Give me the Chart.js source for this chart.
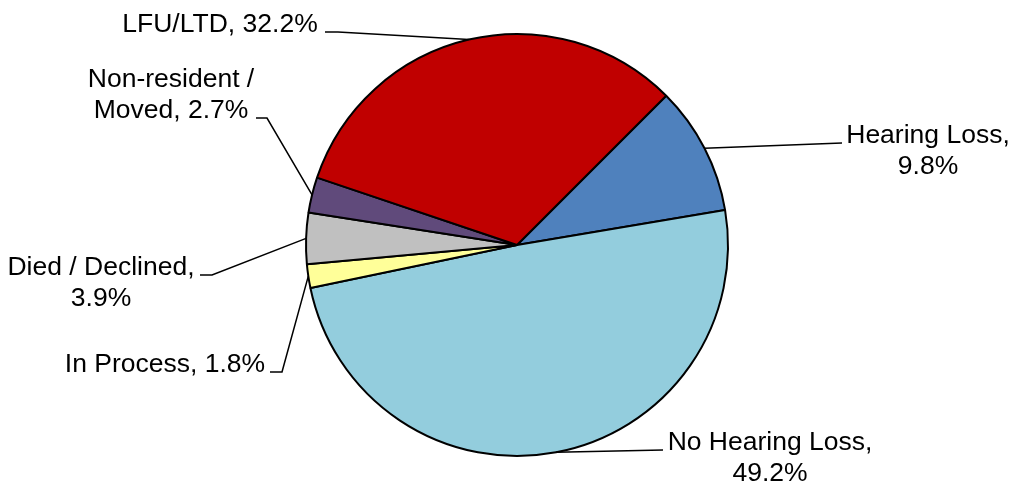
<!DOCTYPE html>
<html><head><meta charset="utf-8">
<script src="https://cdn.jsdelivr.net/npm/chart.js@4"></script>
<style>html,body{margin:0;padding:0;background:#fff;overflow:hidden}</style>
</head><body>
<canvas id="c" width="1016" height="483"></canvas>
<script>
const categories = ["Hearing Loss", "No Hearing Loss", "In Process", "Died / Declined", "Non-resident / Moved", "LFU/LTD"];
const values = [9.8, 49.2, 1.8, 3.9, 2.7, 32.2];
const colors = ["#4F81BD", "#93CDDD", "#FFFF99", "#C0C0C0", "#604A7B", "#C00000"];

// label placement (layout only): text centre x, first baseline, wrap width, leader elbow and end
const labelLayout = [
  {cx: 928, y: 143, wrap: 175, elbow: [842, 143], end: [842, 143]},
  {cx: 770, y: 450, wrap: 225, elbow: [663, 450], end: [663, 450]},
  {cx: 165, y: 372, wrap: 400, elbow: [282, 372], end: [270, 372]},
  {cx: 101, y: 275, wrap: 205, elbow: [212, 275], end: [200, 275]},
  {cx: 171, y: 87,  wrap: 180, elbow: [267, 118], end: [256, 118]},
  {cx: 220, y: 32,  wrap: 400, elbow: [338, 32], end: [325, 32]}
];
const FONT = '26.5px "Liberation Sans", Arial, sans-serif';
const LINE_H = 31;

function wrapText(ctx, text, maxW) {
  const words = text.split(' ');
  const lines = [];
  let cur = '';
  for (const w of words) {
    const t = cur ? cur + ' ' + w : w;
    if (cur && ctx.measureText(t).width > maxW) { lines.push(cur); cur = w; }
    else cur = t;
  }
  if (cur) lines.push(cur);
  return lines;
}

const leaderLabels = {
  id: 'leaderLabels',
  afterDraw(chart) {
    const ctx = chart.ctx;
    const meta = chart.getDatasetMeta(0);
    ctx.save();
    ctx.font = FONT;
    ctx.fillStyle = '#000';
    ctx.strokeStyle = '#000';
    ctx.lineWidth = 1.5;
    ctx.textAlign = 'center';
    ctx.textBaseline = 'alphabetic';
    meta.data.forEach((arc, i) => {
      const p = arc.getProps(['x', 'y', 'startAngle', 'endAngle', 'outerRadius'], true);
      const mid = (p.startAngle + p.endAngle) / 2;
      const ax = p.x + Math.cos(mid) * p.outerRadius;
      const ay = p.y + Math.sin(mid) * p.outerRadius;
      const L = labelLayout[i];
      ctx.beginPath();
      ctx.moveTo(ax, ay);
      ctx.lineTo(L.elbow[0], L.elbow[1]);
      ctx.lineTo(L.end[0], L.end[1]);
      ctx.stroke();
      const text = categories[i] + ', ' + values[i].toFixed(1) + '%';
      const lines = wrapText(ctx, text, L.wrap);
      lines.forEach((ln, k) => ctx.fillText(ln, L.cx, L.y + k * LINE_H));
    });
    ctx.restore();
  }
};

new Chart(document.getElementById('c'), {
  type: 'pie',
  data: {
    labels: categories,
    datasets: [{
      data: values,
      backgroundColor: colors,
      borderColor: '#000',
      borderWidth: 2
    }]
  },
  options: {
    responsive: false,
    animation: false,
    rotation: 45,
    radius: 211,
    layout: {padding: {left: 306, right: 288, top: 34, bottom: 27}},
    plugins: {legend: {display: false}, tooltip: {enabled: false}}
  },
  plugins: [leaderLabels]
});
</script>
</body></html>
